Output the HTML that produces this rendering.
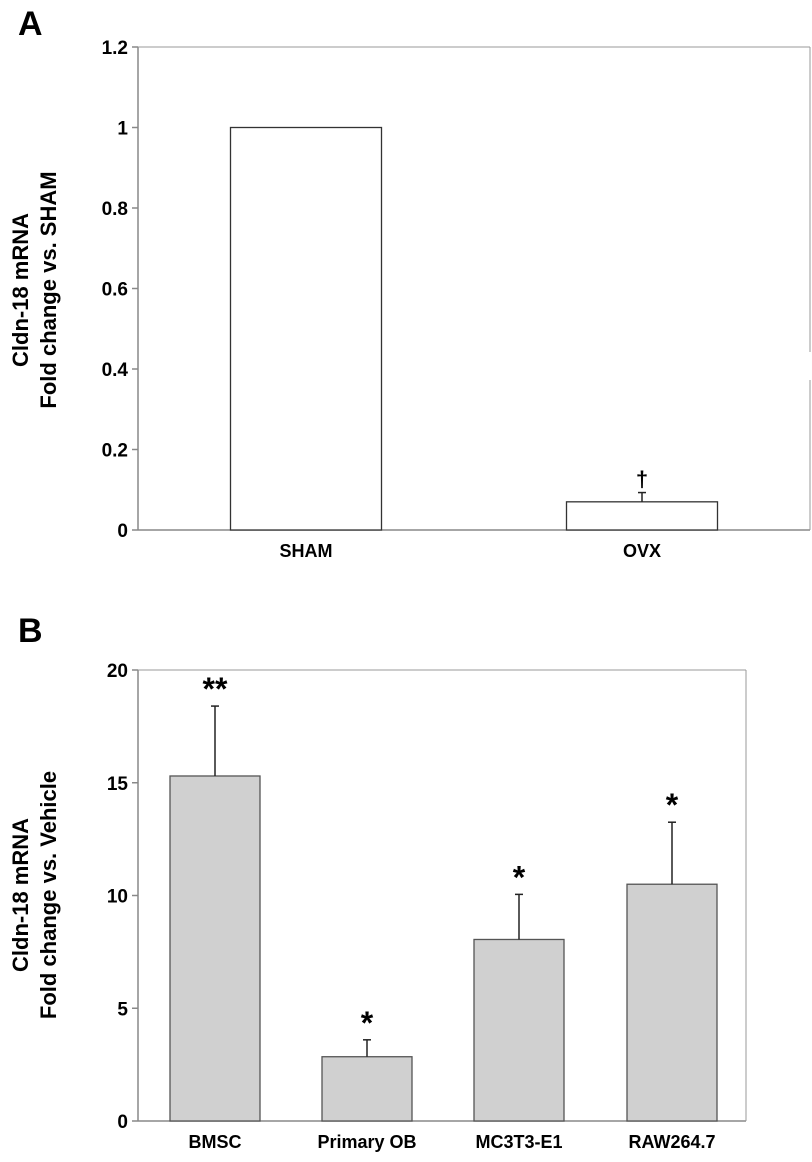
<!DOCTYPE html>
<html><head><meta charset="utf-8"><style>
body{margin:0;background:#fff;}
svg text{font-family:"Liberation Sans",Arial,sans-serif;font-weight:bold;fill:#000;}
</style></head><body>
<svg id="fig" width="812" height="1157">
<text x="18" y="35" font-size="34">A</text>
<text x="18" y="642" font-size="34">B</text>
<g id="ga"></g>
<g id="gb"></g>
</svg>
<script>
const aCats=["SHAM","OVX"];
const aVals=[1.0,0.07];
const aErr=[0,0.093];
const aMarks=["","†"];
const aTicks=[0,0.2,0.4,0.6,0.8,1,1.2];
const bCats=["BMSC","Primary OB","MC3T3-E1","RAW264.7"];
const bVals=[15.3,2.85,8.05,10.5];
const bErr=[18.4,3.6,10.05,13.25];
const bMarks=["**","*","*","*"];
const bTicks=[0,5,10,15,20];
const NS="http://www.w3.org/2000/svg";
function mk(p,t,a,txt){const e=document.createElementNS(NS,t);for(const k in a)e.setAttribute(k,a[k]);if(txt!==undefined)e.textContent=txt;p.appendChild(e);return e;}
function panel(g,o){
 const y=v=>o.y0-(v-o.min)/(o.max-o.min)*(o.y0-o.y1);
 const x=i=>o.xL+o.xs[i];
 let l=mk(g,'line',{x1:o.xL,y1:o.y1,x2:o.xL,y2:o.y0,stroke:'#888','stroke-width':1.5});
 
 l=mk(g,'line',{x1:o.xL,y1:o.y0,x2:o.xR,y2:o.y0,stroke:'#888','stroke-width':1.5});
 
 l=mk(g,'line',{x1:o.xL,y1:o.y1,x2:o.xR,y2:o.y1,stroke:'#999','stroke-width':1});
 
 for(const seg of o.rightSegs){l=mk(g,'line',{x1:o.xR,y1:seg[0],x2:o.xR,y2:seg[1],stroke:'#999','stroke-width':1});
 }
 o.ticks.forEach(t=>{
  l=mk(g,'line',{x1:o.xL-6,y1:y(t),x2:o.xL,y2:y(t),stroke:'#888','stroke-width':1.5});
  
  const tx=mk(g,'text',{x:o.xL-10,y:y(t)+7,'font-size':19,'text-anchor':'end'},String(t));
  
 });
 o.cats.forEach((c,i)=>{
  const cx=x(i), w=o.bw;
  const r=mk(g,'rect',{x:cx-w/2,y:y(o.vals[i]),width:w,height:y(0)-y(o.vals[i]),fill:o.fill,stroke:o.stroke,'stroke-width':1.3});
  
  
  if(o.err[i]>o.vals[i]){
   l=mk(g,'line',{x1:cx,y1:y(o.vals[i]),x2:cx,y2:y(o.err[i]),stroke:'#222','stroke-width':1.5});
   
   l=mk(g,'line',{x1:cx-4,y1:y(o.err[i]),x2:cx+4,y2:y(o.err[i]),stroke:'#222','stroke-width':1.5});
   
  }
  if(o.marks[i]){
   const top=Math.max(o.err[i],o.vals[i]);
   const m=mk(g,'text',{x:cx,y:y(top)-o.markOff,'font-size':o.markSize,'text-anchor':'middle'},o.marks[i]);
   
  }
  const t=mk(g,'text',{x:cx,y:o.y0+27,'font-size':18,'text-anchor':'middle'},c);
  
 });
 const tt=mk(g,'text',{transform:`translate(${o.tx},${o.ty}) rotate(-90)`,'font-size':22,'text-anchor':'middle'});
 
 mk(tt,'tspan',{x:0,dy:0},o.title[0]);
 mk(tt,'tspan',{x:0,dy:28},o.title[1]);
}
panel(document.getElementById('ga'),{xL:138,xR:810,y0:530,y1:47,min:0,max:1.2,xs:[168,504],bw:151,
 cats:aCats,vals:aVals,err:aErr,marks:aMarks,ticks:aTicks,fill:'#fff',stroke:'#333',markOff:6,markSize:22,
 rightSegs:[[47,352],[380,530]],tx:28,ty:290,title:["Cldn-18 mRNA","Fold change vs. SHAM"]});
panel(document.getElementById('gb'),{xL:138,xR:746,y0:1121,y1:670,min:0,max:20,xs:[77,229,381,534],bw:90,
 cats:bCats,vals:bVals,err:bErr,marks:bMarks,ticks:bTicks,fill:'#d0d0d0',stroke:'#555',markOff:6,markSize:32,
 rightSegs:[[670,1121]],tx:28,ty:895,title:["Cldn-18 mRNA","Fold change vs. Vehicle"]});
</script>
</body></html>
